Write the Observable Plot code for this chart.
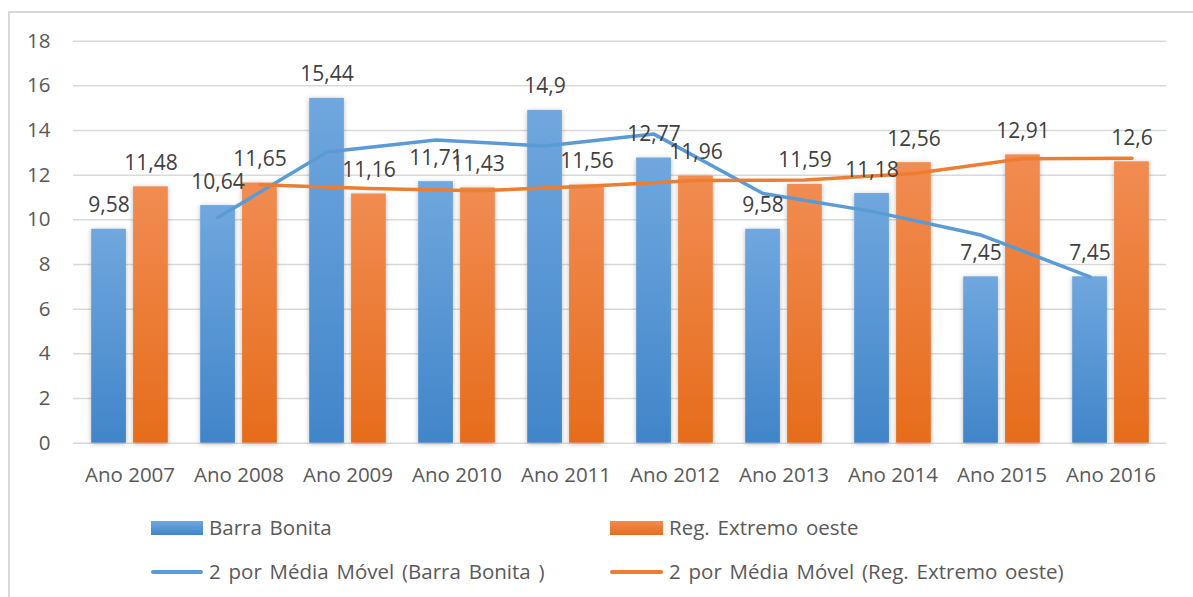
<!DOCTYPE html>
<html>
<head>
<meta charset="utf-8">
<script src="https://cdn.jsdelivr.net/npm/d3@7"></script>
<script src="https://cdn.jsdelivr.net/npm/@observablehq/plot@0.6"></script>
<style>
  html, body { margin: 0; padding: 0; background: #fff; width: 1193px; height: 597px; overflow: hidden; }
  body { position: relative; font-family: "Open Sans", sans-serif; }
  #frame { position: absolute; left: 8px; top: 11px; width: 1200px; height: 600px; border: 2px solid #d9d9d9; box-sizing: border-box; }
  #chart { position: absolute; left: 0; top: 0; }
  .leg { position: absolute; font-size: 20.5px; word-spacing: 2.5px; color: #595959; white-space: nowrap; line-height: 24px; }
  .sw { position: absolute; }
</style>
</head>
<body>
<div id="frame"></div>
<div id="chart"></div>
<div id="legend"></div>
<script>
const years = ["Ano 2007","Ano 2008","Ano 2009","Ano 2010","Ano 2011","Ano 2012","Ano 2013","Ano 2014","Ano 2015","Ano 2016"];
const barraBonita = [9.58, 10.64, 15.44, 11.71, 14.9, 12.77, 9.58, 11.18, 7.45, 7.45];
const extremoOeste = [11.48, 11.65, 11.16, 11.43, 11.56, 11.96, 11.59, 12.56, 12.91, 12.6];
// moving-average trendlines (start at Ano 2008)
const maYears = ["Ano 2008","Ano 2009","Ano 2010","Ano 2011","Ano 2012","Ano 2013","Ano 2014","Ano 2015","Ano 2016"];
const maBarraBonita = [10.11, 13.04, 13.58, 13.31, 13.84, 11.18, 10.38, 9.32, 7.45];
const maExtremoOeste = [11.57, 11.41, 11.3, 11.5, 11.76, 11.78, 12.08, 12.74, 12.76];
const yTicks = [0, 2, 4, 6, 8, 10, 12, 14, 16, 18];
const seriesNames = ["Barra Bonita", "Reg. Extremo oeste", "2 por Média Móvel (Barra Bonita )", "2 por Média Móvel (Reg. Extremo oeste)"];

const blueRows = years.map((y, i) => ({year: y, value: barraBonita[i]}));
const orangeRows = years.map((y, i) => ({year: y, value: extremoOeste[i]}));
const maBlueRows = maYears.map((y, i) => ({year: y, value: maBarraBonita[i]}));
const maOrangeRows = maYears.map((y, i) => ({year: y, value: maExtremoOeste[i]}));
const fmt = v => String(v).replace(".", ",");

const off = 21;

const plot = Plot.plot({
  width: 1193,
  height: 490,
  marginTop: 40.7,
  marginBottom: 47.3,
  marginLeft: 73,
  marginRight: 27,
  style: {fontFamily: "'Open Sans', sans-serif", fontSize: "20.5px", color: "#595959", background: "transparent"},
  x: {domain: years, padding: 0, label: null, tickSize: 0, tickPadding: 24},
  y: {domain: [0, 18], ticks: yTicks, label: null, tickSize: 0, tickPadding: 23, tickFormat: d => String(d)},
  marks: [
    Plot.ruleY(yTicks, {stroke: "#d9d9d9", strokeWidth: 1.5}),
    Plot.barY(blueRows, {x: "year", y: "value", fill: "url(#gBlue)", insetLeft: 16.2, insetRight: 58.1, className: "bars"}),
    Plot.barY(orangeRows, {x: "year", y: "value", fill: "url(#gOrange)", insetLeft: 58.1, insetRight: 16.2, className: "bars"}),
    Plot.line(maBlueRows, {x: "year", y: "value", dx: -off, stroke: "#5b9bd5", strokeWidth: 3.5, strokeLinecap: "round", strokeLinejoin: "round"}),
    Plot.line(maOrangeRows, {x: "year", y: "value", dx: off, stroke: "#ed7d31", strokeWidth: 3.5, strokeLinecap: "round", strokeLinejoin: "round"}),
    Plot.text(blueRows, {x: "year", y: "value", text: d => fmt(d.value), dx: -off, dy: -17, lineAnchor: "bottom", fill: "#404040", fontSize: 21}),
    Plot.text(orangeRows, {x: "year", y: "value", text: d => fmt(d.value), dx: off, dy: -17, lineAnchor: "bottom", fill: "#404040", fontSize: 21})
  ]
});

d3.select(plot).insert("defs", ":first-child").html(`
  <linearGradient id="gBlue" x1="0" y1="0" x2="0" y2="1">
    <stop offset="0" stop-color="#70a7de"/>
    <stop offset="1" stop-color="#4185c9"/>
  </linearGradient>
  <linearGradient id="gOrange" x1="0" y1="0" x2="0" y2="1">
    <stop offset="0" stop-color="#f18c52"/>
    <stop offset="1" stop-color="#e66c1b"/>
  </linearGradient>
  <filter id="shadow" x="-30%" y="-10%" width="160%" height="120%">
    <feDropShadow dx="0" dy="1" stdDeviation="2.5" flood-color="#000" flood-opacity="0.28"/>
  </filter>`);
d3.select(plot).selectAll("g.bars, [aria-label='bar']").attr("filter", "url(#shadow)");
document.getElementById("chart").appendChild(plot);

// legend
const leg = document.getElementById("legend");
const items = [
  {name: seriesNames[0], kind: "bar", bg: "linear-gradient(#70a7de, #4185c9)", sx: 151, tx: 209, y: 528},
  {name: seriesNames[1], kind: "bar", bg: "linear-gradient(#f18c52, #e66c1b)", sx: 610, tx: 669, y: 528},
  {name: seriesNames[2], kind: "line", bg: "#5b9bd5", sx: 151, tx: 209, y: 572},
  {name: seriesNames[3], kind: "line", bg: "#ed7d31", sx: 610, tx: 669, y: 572}
];
for (const it of items) {
  const s = document.createElement("div");
  s.className = "sw";
  s.style.left = it.sx + "px";
  s.style.width = (it.tx - it.sx - 6) + "px";
  if (it.kind === "bar") {
    s.style.top = (it.y - 7) + "px"; s.style.height = "14px";
  } else {
    s.style.top = (it.y - 2) + "px"; s.style.height = "4px"; s.style.borderRadius = "2px";
  }
  s.style.background = it.bg;
  leg.appendChild(s);
  const t = document.createElement("div");
  t.className = "leg";
  t.style.left = it.tx + "px";
  t.style.top = (it.y - 13) + "px";
  t.textContent = it.name;
  leg.appendChild(t);
}
</script>
</body>
</html>
